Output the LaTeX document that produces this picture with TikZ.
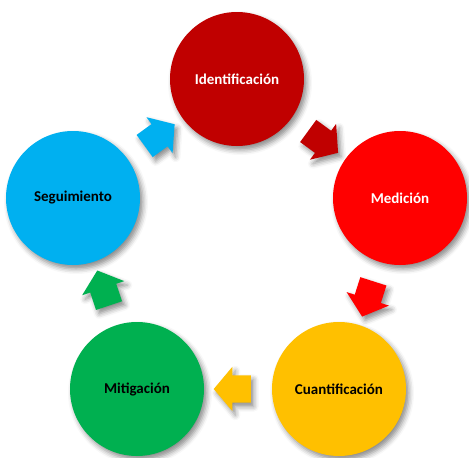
\documentclass[tikz,border=0pt]{standalone}
\usepackage{fontspec}
\setmainfont{Carlito}
\usetikzlibrary{shapes.arrows, shadows.blur}
\definecolor{rojoosc}{HTML}{C00000}
\definecolor{rojo}{HTML}{FF0000}
\definecolor{amarillo}{HTML}{FFC000}
\definecolor{verde}{HTML}{00B050}
\definecolor{azul}{HTML}{00B0F0}
\begin{document}
\begin{tikzpicture}[x=1pt, y=-1pt, font=\bfseries\fontsize{15}{17}\selectfont,
    sombra/.style={blur shadow={shadow xshift=3pt, shadow yshift=-4pt, shadow blur radius=5pt, shadow opacity=45}},
    etapa/.style={circle, minimum size=134pt, inner sep=0pt, sombra},
    flecha/.style={single arrow, sloped, allow upside down, minimum height=37pt, inner xsep=0pt, inner ysep=13.5pt,
        single arrow head extend=8.5pt, single arrow tip angle=100, sombra}]
    \useasboundingbox (0,0) rectangle (469,458);

    \coordinate (c01) at (237,79);
    \coordinate (c02) at (400,198);
    \coordinate (c03) at (339,389);
    \coordinate (c04) at (137,389);
    \coordinate (c05) at ( 73,198);

    \node[etapa, fill=rojoosc, text=white] (iden) at (c01) {Identificación};
    \node[etapa, fill=rojo, text=white]    (medi) at (c02) {Medición};
    \node[etapa, fill=amarillo]            (cuan) at (c03) {Cuantificación};
    \node[etapa, fill=verde]               (miti) at (c04) {Mitigación};
    \node[etapa, fill=azul]                (segu) at (c05) {Seguimiento};

    \path (iden) -- node[flecha, fill=rojoosc]  (f01) {} (medi);
    \path (medi) -- node[flecha, fill=rojo]     (f02) {} (cuan);
    \path (cuan) -- node[flecha, fill=amarillo] (f03) {} (miti);
    \path (miti) -- node[flecha, fill=verde]    (f04) {} (segu);
    \path (segu) -- node[flecha, fill=azul]     (f05) {} (iden);

\end{tikzpicture}
\end{document}
